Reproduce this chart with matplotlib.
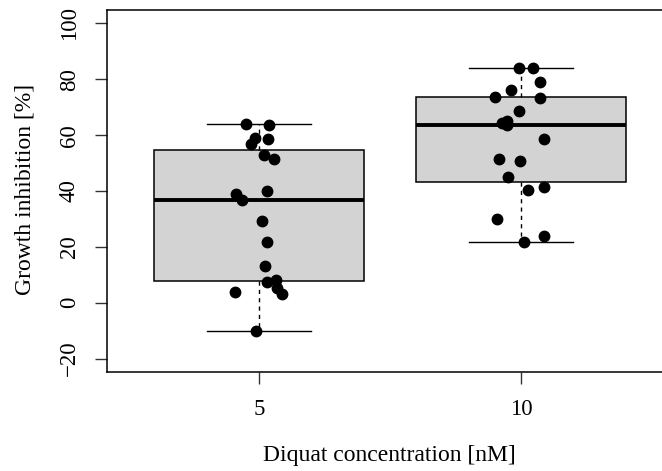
import numpy as np
import matplotlib
matplotlib.use("Agg")
import matplotlib.pyplot as plt

# ---- data ----
categories = ["5", "10"]
inhib_5 = [64.0, 63.8, 59.0, 58.7, 56.9, 52.8, 51.3, 39.1, 40.1, 36.6,
           29.4, 21.6, 13.3, 7.5, 8.2, 5.3, 3.1, 3.7, -10.0]
inhib_10 = [84.1, 84.1, 79.1, 76.3, 73.6, 73.4, 68.6, 65.2, 64.2, 63.8,
            58.7, 51.6, 50.6, 45.0, 40.3, 41.5, 30.1, 23.8, 21.6]
# horizontal jitter of the points (in group units) as seen in the picture
jitter_5 = [-0.050, 0.038, -0.015, 0.034, -0.030, 0.019, 0.057, -0.088, 0.030, -0.065,
            0.011, 0.030, 0.023, 0.030, 0.065, 0.069, 0.088, -0.092, -0.011]
jitter_10 = [-0.008, 0.046, 0.073, -0.038, -0.099, 0.073, -0.008, -0.053, -0.073, -0.053,
             0.088, -0.084, -0.004, -0.050, 0.027, 0.088, -0.092, 0.088, 0.011]
y_ticks = [-20, 0, 20, 40, 60, 80, 100]

groups = [inhib_5, inhib_10]
jitters = [jitter_5, jitter_10]


def fivenum_stats(vals, label):
    x = np.sort(np.asarray(vals, dtype=float))
    n = len(x)
    n4 = np.floor((n + 3) / 2) / 2
    d = np.array([1, n4, (n + 1) / 2, n + 1 - n4, n])
    fn = 0.5 * (x[np.floor(d).astype(int) - 1] + x[np.ceil(d).astype(int) - 1])
    iqr = fn[3] - fn[1]
    lo_lim, hi_lim = fn[1] - 1.5 * iqr, fn[3] + 1.5 * iqr
    whislo = x[x >= lo_lim].min()
    whishi = x[x <= hi_lim].max()
    return dict(med=fn[2], q1=fn[1], q3=fn[3], whislo=whislo, whishi=whishi,
                fliers=[], label=label)


plt.rcParams["font.family"] = ["Liberation Serif", "DejaVu Serif"]

W, H = 662, 471
fig = plt.figure(figsize=(W / 100, H / 100), dpi=100)
left, right, top, bottom = 107, 673, 10, 372
ax = fig.add_axes([left / W, (H - bottom) / H, (right - left) / W, (bottom - top) / H])

stats = [fivenum_stats(g, c) for g, c in zip(groups, categories)]
positions = np.arange(1, len(groups) + 1)
ax.bxp(stats, positions=positions, widths=0.8, patch_artist=True, showfliers=False,
       boxprops=dict(facecolor="#D3D3D3", edgecolor="black", linewidth=1.1),
       medianprops=dict(color="black", linewidth=2.8, solid_capstyle="butt"),
       whiskerprops=dict(color="black", linewidth=1.0, linestyle=(0, (3, 3))),
       capprops=dict(color="black", linewidth=1.0),
       capwidths=0.4, zorder=1)

for p, g, j in zip(positions, groups, jitters):
    ax.plot(p + np.asarray(j), g, "o", color="black", markersize=7.5, zorder=3,
            linestyle="none")

ax.set_xlim(0.42, 2.58)
ax.set_ylim(-24.8, 104.8)
ax.set_xticks(positions)
ax.set_xticklabels(categories)
ax.set_yticks(y_ticks)
ax.set_yticklabels([str(v).replace("-", "\u2212") for v in y_ticks], rotation=90,
                   va="center", ha="right")
ax.tick_params(axis="both", direction="out", length=8.5, width=1.0, labelsize=16.5,
               color="#333333")
ax.tick_params(axis="x", pad=11)
ax.tick_params(axis="y", pad=11)
for s in ax.spines.values():
    s.set_linewidth(1.1)

fig.text(389 / W, 1 - 455 / H, "Diquat concentration [nM]", ha="center", va="center",
         fontsize=17)
fig.text(25 / W, 1 - 189 / H, "Growth inhibition [%]", ha="center", va="center",
         fontsize=17, rotation=90)

fig.savefig("out.png", dpi=100)
